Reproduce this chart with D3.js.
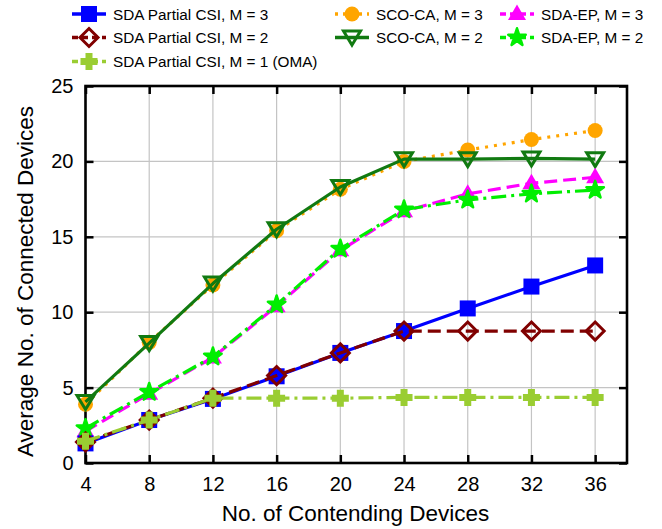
<!DOCTYPE html>
<html lang="en">
<head>
<meta charset="utf-8">
<title>Connected Devices</title>
<script src="https://d3js.org/d3.v7.min.js"></script>
<style>
  body { margin: 0; background: #fff; }
  text { font-family: "Liberation Sans", Arial, sans-serif; }
</style>
</head>
<body>
<div id="chart"></div>
<script>
// data
const devices = [4, 8, 12, 16, 20, 24, 28, 32, 36];
const xTicks = [4, 8, 12, 16, 20, 24, 28, 32, 36];
const yTicks = [0, 5, 10, 15, 20, 25];

const scoM3  = [3.9, 8.0, 11.8, 15.4, 18.15, 20.0, 20.75, 21.45, 22.05];
const scoM2  = [4.05, 7.95, 11.9, 15.5, 18.3, 20.15, 20.15, 20.2, 20.15];
const epM3   = [2.1, 4.6, 7.0, 10.4, 14.1, 16.7, 17.85, 18.55, 18.95];
const epM2   = [2.3, 4.7, 7.05, 10.5, 14.2, 16.8, 17.45, 17.85, 18.1];
const csiM3  = [1.3, 2.85, 4.25, 5.75, 7.3, 8.75, 10.25, 11.7, 13.1];
const csiM2  = [1.4, 2.85, 4.3, 5.8, 7.3, 8.75, 8.75, 8.75, 8.75];
const csiM1  = [1.45, 2.85, 4.3, 4.3, 4.3, 4.35, 4.35, 4.35, 4.35];

const seriesNames = [
  "SCO-CA, M = 3", "SCO-CA, M = 2", "SDA-EP, M = 3", "SDA-EP, M = 2",
  "SDA Partial CSI, M = 3", "SDA Partial CSI, M = 2", "SDA Partial CSI, M = 1 (OMA)"
];

const W = 662, H = 529;
const margin = {top: 86, right: 35, bottom: 66, left: 85.5};
const width = W - margin.left - margin.right,
      height = H - margin.top - margin.bottom;

// styles per series
const styles = {
  "SCO-CA, M = 3":   {color: "#ffa500", dash: "3,6",       shape: "circle",  fill: true},
  "SCO-CA, M = 2":   {color: "#117a11", dash: null,        shape: "tridown", fill: false},
  "SDA-EP, M = 3":   {color: "#ff00ff", dash: "13,6",      shape: "triup",   fill: true},
  "SDA-EP, M = 2":   {color: "#00ee00", dash: "15,5,3,5",  shape: "star",    fill: true},
  "SDA Partial CSI, M = 3": {color: "#0000ff", dash: null, shape: "square",  fill: true},
  "SDA Partial CSI, M = 2": {color: "#800000", dash: "13,6", shape: "diamond", fill: false},
  "SDA Partial CSI, M = 1 (OMA)": {color: "#9acd32", dash: "15,5,3,5", shape: "plus", fill: true}
};
const values = {
  "SCO-CA, M = 3": scoM3, "SCO-CA, M = 2": scoM2,
  "SDA-EP, M = 3": epM3, "SDA-EP, M = 2": epM2,
  "SDA Partial CSI, M = 3": csiM3, "SDA Partial CSI, M = 2": csiM2,
  "SDA Partial CSI, M = 1 (OMA)": csiM1
};

const svg = d3.select("#chart").append("svg")
  .attr("width", W).attr("height", H);
const g = svg.append("g").attr("transform", `translate(${margin.left},${margin.top})`);

const x = d3.scaleLinear().domain([4, 38]).range([0, width]);
const y = d3.scaleLinear().domain([0, 25]).range([height, 0]);

// grid
g.append("g").selectAll("line").data(xTicks.slice(1)).join("line")
  .attr("x1", d => x(d)).attr("x2", d => x(d)).attr("y1", 0).attr("y2", height)
  .attr("stroke", "#c4c4c4").attr("stroke-width", 1.2);
g.append("g").selectAll("line").data(yTicks.slice(1, -1)).join("line")
  .attr("y1", d => y(d)).attr("y2", d => y(d)).attr("x1", 0).attr("x2", width)
  .attr("stroke", "#c4c4c4").attr("stroke-width", 1.2);

// axes (ticks pointing inward)
const tk = 8;
g.append("g").attr("transform", `translate(0,${height})`)
  .call(d3.axisBottom(x).tickValues(xTicks).tickSizeInner(-tk).tickSizeOuter(0).tickPadding(14));
g.append("g")
  .call(d3.axisLeft(y).tickValues(yTicks).tickSizeInner(-tk).tickSizeOuter(0).tickPadding(12));
g.append("g").call(d3.axisTop(x).tickValues(xTicks).tickSizeInner(-tk).tickSizeOuter(0).tickFormat(""));
g.append("g").attr("transform", `translate(${width},0)`)
  .call(d3.axisRight(y).tickValues(yTicks).tickSizeInner(-tk).tickSizeOuter(0).tickFormat(""));
g.selectAll(".domain").remove();
g.selectAll(".tick line").attr("stroke", "#000").attr("stroke-width", 2.5);
g.selectAll(".tick text").style("font-size", "20px").attr("fill", "#000")
  .style("font-family", "'Liberation Sans', Arial, sans-serif");

// frame
g.append("rect").attr("width", width).attr("height", height)
  .attr("fill", "none").attr("stroke", "#000").attr("stroke-width", 2.6);

// axis titles
svg.append("text")
  .attr("x", 355.5).attr("y", 521)
  .attr("text-anchor", "middle").style("font-size", "22.5px")
  .text("No. of Contending Devices");
svg.append("text")
  .attr("transform", "translate(33,281.5) rotate(-90)")
  .attr("text-anchor", "middle").style("font-size", "22.5px")
  .text("Average No. of Connected Devices");

// marker builder
function marker(sel, shape, st) {
  let p;
  if (shape === "circle") {
    p = sel.append("circle").attr("r", 7.5);
  } else if (shape === "square") {
    p = sel.append("rect").attr("x", -8).attr("y", -8).attr("width", 16).attr("height", 16);
  } else if (shape === "diamond") {
    p = sel.append("path").attr("d", "M0,-9L9,0L0,9L-9,0Z");
  } else if (shape === "triup") {
    p = sel.append("path").attr("d", "M0,-9.5L9,6L-9,6Z");
  } else if (shape === "tridown") {
    p = sel.append("path").attr("d", "M0,7.5L8.5,-6.5L-8.5,-6.5Z");
  } else if (shape === "star") {
    p = sel.append("path").attr("d", d3.symbol(d3.symbolStar, 95)());
  } else if (shape === "plus") {
    p = sel.append("path").attr("d", "M-3.5,-8.5H3.5V-3.5H8.5V3.5H3.5V8.5H-3.5V3.5H-8.5V-3.5H-3.5Z");
  }
  if (shape === "star") {
    p.attr("fill", st.color).attr("stroke", st.color).attr("stroke-width", 2.5).attr("stroke-linejoin", "round");
  } else if (st.fill) {
    p.attr("fill", st.color).attr("stroke", "none");
  } else {
    p.attr("fill", "none").attr("stroke", st.color).attr("stroke-width", 3);
  }
}

const line = d3.line().x((d, i) => x(devices[i])).y(d => y(d));

seriesNames.forEach(name => {
  const st = styles[name];
  const vals = values[name];
  const sg = g.append("g");
  sg.append("path").datum(vals)
    .attr("d", line)
    .attr("fill", "none")
    .attr("stroke", st.color)
    .attr("stroke-width", 3.2)
    .attr("stroke-dasharray", st.dash)
    .attr("stroke-linejoin", "round");
  vals.forEach((v, i) => {
    const m = sg.append("g").attr("transform", `translate(${x(devices[i])},${y(v)})`);
    marker(m, st.shape, st);
  });
});

// legend
const legendItems = [
  {name: "SDA Partial CSI, M = 3", lx: 72, ly: 14},
  {name: "SDA Partial CSI, M = 2", lx: 72, ly: 37.5},
  {name: "SDA Partial CSI, M = 1 (OMA)", lx: 72, ly: 61.5},
  {name: "SCO-CA, M = 3", lx: 335, ly: 14},
  {name: "SCO-CA, M = 2", lx: 335, ly: 37.5},
  {name: "SDA-EP, M = 3", lx: 500, ly: 14},
  {name: "SDA-EP, M = 2", lx: 500, ly: 37.5}
];
const legend = svg.append("g");
legendItems.forEach(it => {
  const st = styles[it.name];
  const lg = legend.append("g").attr("transform", `translate(${it.lx},${it.ly})`);
  lg.append("line").attr("x1", 0).attr("x2", 34).attr("y1", 0).attr("y2", 0)
    .attr("stroke", st.color).attr("stroke-width", 3.6)
    .attr("stroke-dasharray", st.shape === "circle" ? "3,5" : (st.dash ? "6,4" : null));
  const m = lg.append("g").attr("transform", "translate(17,0)");
  marker(m, st.shape, st);
  lg.append("text").attr("x", 41).attr("y", 0).attr("dy", "0.36em")
    .style("font-size", "15.3px").text(it.name);
});
</script>
</body>
</html>
